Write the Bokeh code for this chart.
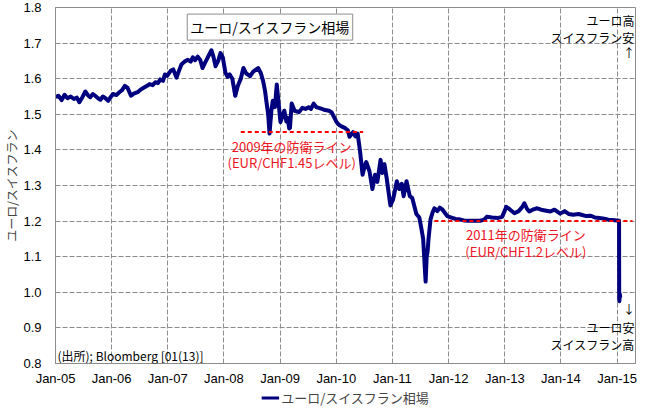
import pandas as pd
from bokeh.plotting import figure
from bokeh.layouts import column
from bokeh.models import Range1d, FixedTicker, Label, Legend, LegendItem, ColumnDataSource
from bokeh.embed import file_html
from bokeh.resources import INLINE

# ---- data ----
dates = [
    "2005-01-03", "2005-01-20", "2005-02-10", "2005-03-01", "2005-03-20", "2005-04-10", "2005-05-01",
    "2005-05-20", "2005-06-05", "2005-06-25", "2005-07-14", "2005-08-01", "2005-08-15", "2005-09-01",
    "2005-09-16", "2005-10-05", "2005-10-20", "2005-11-05", "2005-11-20", "2005-12-10", "2005-12-25",
    "2006-01-10", "2006-02-01", "2006-02-20", "2006-03-10", "2006-03-28", "2006-04-15", "2006-05-07",
    "2006-05-25", "2006-06-19", "2006-07-10", "2006-07-31", "2006-08-20", "2006-09-05", "2006-09-25",
    "2006-10-12", "2006-10-30", "2006-11-13", "2006-12-01", "2006-12-14", "2006-12-28",
    "2007-01-20", "2007-02-06", "2007-02-27", "2007-03-15", "2007-03-31", "2007-04-20", "2007-05-12",
    "2007-05-30", "2007-06-13", "2007-06-28", "2007-07-15", "2007-08-01", "2007-08-15", "2007-09-01",
    "2007-09-16", "2007-10-12", "2007-10-25", "2007-11-08", "2007-11-25", "2007-12-10", "2007-12-25",
    "2008-01-11", "2008-01-25", "2008-02-08", "2008-02-25", "2008-03-15", "2008-04-01", "2008-04-20",
    "2008-05-07", "2008-05-25", "2008-06-19", "2008-07-10", "2008-08-11", "2008-08-28", "2008-09-12",
    "2008-09-25", "2008-10-03", "2008-10-15", "2008-10-24", "2008-11-05", "2008-11-14", "2008-11-28",
    "2008-12-10", "2008-12-20",
    "2009-01-03", "2009-01-15", "2009-01-28", "2009-02-10", "2009-02-18", "2009-03-01", "2009-03-06",
    "2009-03-17", "2009-04-05", "2009-05-04", "2009-05-25", "2009-06-15", "2009-07-05", "2009-07-20",
    "2009-08-07", "2009-08-25", "2009-09-29", "2009-10-20", "2009-11-15", "2009-12-01", "2009-12-20",
    "2010-01-03", "2010-01-20", "2010-02-04", "2010-02-25", "2010-03-17", "2010-03-28", "2010-04-20",
    "2010-05-05", "2010-05-20", "2010-06-05", "2010-06-21", "2010-07-05", "2010-07-15", "2010-08-05",
    "2010-08-24", "2010-09-10", "2010-09-25", "2010-10-16", "2010-10-27", "2010-11-10", "2010-11-25",
    "2010-12-19",
    "2011-01-05", "2011-01-30", "2011-02-15", "2011-03-03", "2011-03-15", "2011-04-03", "2011-04-24",
    "2011-05-10", "2011-06-06", "2011-06-25", "2011-07-08", "2011-07-20", "2011-08-05", "2011-08-12",
    "2011-08-18", "2011-08-24", "2011-09-06", "2011-09-20", "2011-10-01", "2011-10-20", "2011-11-05",
    "2011-11-23", "2011-12-10", "2011-12-24",
    "2012-01-20", "2012-02-15", "2012-03-08", "2012-04-10", "2012-05-15", "2012-06-23", "2012-07-25",
    "2012-08-20", "2012-09-06", "2012-10-10", "2012-11-19", "2012-12-15",
    "2013-01-11", "2013-02-05", "2013-03-05", "2013-04-01", "2013-04-25", "2013-05-08", "2013-05-25",
    "2013-06-09", "2013-07-01", "2013-07-31", "2013-08-25", "2013-09-20", "2013-10-24", "2013-11-20",
    "2013-12-27",
    "2014-01-25", "2014-02-20", "2014-03-22", "2014-04-25", "2014-05-20", "2014-06-15", "2014-07-15",
    "2014-08-10", "2014-09-08", "2014-10-10", "2014-11-05", "2014-12-02", "2014-12-30",
    "2015-01-14", "2015-01-15", "2015-01-16", "2015-01-19", "2015-01-22",
]
rates = [
    1.548, 1.552, 1.540, 1.555, 1.545, 1.550, 1.543,
    1.547, 1.534, 1.548, 1.564, 1.553, 1.548, 1.557,
    1.552, 1.545, 1.541, 1.550, 1.546, 1.538, 1.548,
    1.557, 1.554, 1.562, 1.568, 1.580, 1.574, 1.552,
    1.558, 1.562, 1.570, 1.575, 1.580, 1.585, 1.582,
    1.590, 1.588, 1.598, 1.594, 1.612, 1.608,
    1.622, 1.626, 1.603, 1.622, 1.640, 1.648, 1.653,
    1.648, 1.660, 1.652, 1.662, 1.652, 1.630, 1.645,
    1.658, 1.680, 1.662, 1.635, 1.650, 1.672, 1.660,
    1.617, 1.605, 1.612, 1.600, 1.552, 1.580, 1.600,
    1.630, 1.615, 1.607, 1.620, 1.630, 1.616, 1.594,
    1.565, 1.538, 1.500, 1.446, 1.510, 1.538, 1.520,
    1.584, 1.540,
    1.478, 1.495, 1.510, 1.480, 1.490, 1.460, 1.462,
    1.530, 1.510, 1.506, 1.518, 1.515, 1.520, 1.515,
    1.530, 1.520, 1.515, 1.512, 1.510, 1.506, 1.490,
    1.478, 1.470, 1.466, 1.462, 1.455, 1.437, 1.450,
    1.438, 1.446, 1.395, 1.330, 1.355, 1.366, 1.340,
    1.290, 1.330, 1.310, 1.372, 1.335, 1.360, 1.320,
    1.244,
    1.260, 1.312, 1.290, 1.305, 1.270, 1.312, 1.270,
    1.265, 1.220, 1.210, 1.180, 1.150, 1.030, 1.100,
    1.115, 1.150, 1.205, 1.225, 1.236, 1.228, 1.238,
    1.232, 1.222, 1.214,
    1.210, 1.206, 1.205, 1.202, 1.201, 1.201, 1.201,
    1.204, 1.212, 1.210, 1.209, 1.212,
    1.240, 1.232, 1.222, 1.228, 1.240, 1.250, 1.235,
    1.227, 1.232, 1.236, 1.232, 1.230, 1.227, 1.232,
    1.221,
    1.228, 1.220, 1.218, 1.220, 1.217, 1.214, 1.215,
    1.210, 1.209, 1.207, 1.204, 1.203, 1.202,
    1.201, 0.990, 0.975, 0.995, 0.985,
]
x_tick_dates = ["2005-01-01", "2006-01-01", "2007-01-01", "2008-01-01", "2009-01-01", "2010-01-01",
                "2011-01-01", "2012-01-01", "2013-01-01", "2014-01-01", "2015-01-01"]
x_tick_labels = ["Jan-05", "Jan-06", "Jan-07", "Jan-08", "Jan-09", "Jan-10",
                 "Jan-11", "Jan-12", "Jan-13", "Jan-14", "Jan-15"]
y_ticks = [0.8, 0.9, 1.0, 1.1, 1.2, 1.3, 1.4, 1.5, 1.6, 1.7, 1.8]
y_tick_labels = ["0.8", "0.9", "1.0", "1.1", "1.2", "1.3", "1.4", "1.5", "1.6", "1.7", "1.8"]
defense_levels = [1.45, 1.20]
defense_start = ["2008-04-20", "2011-10-01"]
defense_end = ["2010-06-25", "2015-04-12"]
series_name = "ユーロ/スイスフラン相場"


def ms(d):
    return pd.Timestamp(d).value / 1e6


JP = "Noto Sans CJK JP"
LAT = "Liberation Sans"
NAVY = "#00007f"

p = figure(width=640, height=388, x_axis_type="datetime", output_backend="svg", toolbar_location=None,
           x_range=Range1d(ms("2005-01-01"), ms("2015-05-01")), y_range=Range1d(0.8, 1.8),
           min_border_left=44, min_border_right=5, min_border_top=7, min_border_bottom=20)

p.outline_line_color = "#8c8c8c"
p.outline_line_width = 1

xt = FixedTicker(ticks=[ms(d) for d in x_tick_dates])
yt = FixedTicker(ticks=y_ticks)
p.xaxis.ticker = xt
p.yaxis.ticker = yt
p.xgrid.ticker = xt
p.ygrid.ticker = yt
p.xaxis.major_label_overrides = {ms(d): l for d, l in zip(x_tick_dates, x_tick_labels)}
p.yaxis.major_label_overrides = {v: l for v, l in zip(y_ticks, y_tick_labels)}

for ax in (p.xaxis[0], p.yaxis[0]):
    ax.axis_line_color = "#8c8c8c"
    ax.major_tick_line_color = None
    ax.minor_tick_line_color = None
    ax.major_tick_out = 0
    ax.major_tick_in = 0
    ax.minor_tick_out = 0
    ax.minor_tick_in = 0
    ax.axis_label_standoff = 0
    ax.major_label_text_font = LAT
    ax.major_label_text_font_size = "13px"
    ax.major_label_text_color = "black"
p.xaxis.major_label_standoff = 7
p.yaxis.major_label_standoff = 14
p.yaxis.axis_label = "ユーロ/スイスフラン"
p.yaxis.axis_label_text_font = JP
p.yaxis.axis_label_text_font_size = "12px"
p.yaxis.axis_label_text_font_style = "normal"

for g in (p.xgrid[0], p.ygrid[0]):
    g.grid_line_color = "#8c8c8c"
    g.grid_line_dash = "5 2"
    g.grid_line_width = 1

src = ColumnDataSource(dict(x=pd.to_datetime(dates), y=rates))
r = p.line("x", "y", source=src, line_color=NAVY, line_width=4, line_join="round")

p.segment(x0=[ms(d) for d in defense_start], y0=defense_levels,
          x1=[ms(d) for d in defense_end], y1=defense_levels,
          line_color="#ff0000", line_width=2, line_dash="4 3")

# title box
p.add_layout(Label(x=ms("2008-10-27"), y=1.745, text=series_name, text_font=JP, text_font_size="14px",
                   text_align="center", text_baseline="middle", text_color="black",
                   border_line_color="#8c8c8c", background_fill_color="white", padding=3))

red = "#f0141e"
for txt, xd, yv in [("2009年の防衛ライン", "2009-03-17", 1.4105),
                    ("(EUR/CHF1.45レベル)", "2009-03-17", 1.366),
                    ("2011年の防衛ライン", "2013-05-18", 1.162),
                    ("(EUR/CHF1.2レベル)", "2013-05-18", 1.115)]:
    p.add_layout(Label(x=ms(xd), y=yv, text=txt, text_font=JP, text_font_size="13px",
                       text_align="center", text_baseline="middle", text_color=red))

for txt, yv in [("ユーロ高", 1.764), ("スイスフラン安", 1.717), ("ユーロ安", 0.902), ("スイスフラン高", 0.852)]:
    p.add_layout(Label(x=ms("2015-04-25"), y=yv, text=txt, text_font=JP, text_font_size="12px",
                       text_align="right", text_baseline="middle", text_color="black"))
for txt, yv in [("↑", 1.673), ("↓", 0.955)]:
    p.add_layout(Label(x=ms("2015-03-20"), y=yv, text=txt, text_font=JP, text_font_size="12px",
                       text_align="center", text_baseline="middle", text_color="black"))

p.add_layout(Label(x=ms("2005-01-14"), y=0.822, text="(出所); Bloomberg [01(13)]", text_font=JP,
                   text_font_size="12px", text_align="left", text_baseline="middle", text_color="black"))

# legend strip below the chart (same series, its ranges keep the line itself out of view)
pl = figure(width=640, height=18, output_backend="svg", toolbar_location=None,
            min_border_left=44, min_border_right=5, min_border_top=0, min_border_bottom=0,
            x_range=Range1d(0, 1), y_range=Range1d(0, 1))
pl.axis.visible = False
pl.grid.visible = False
pl.outline_line_color = None
lr = pl.line("x", "y", source=src, line_color=NAVY, line_width=3)
legend = Legend(items=[LegendItem(label=series_name, renderers=[lr])], location="center",
                orientation="horizontal", margin=0, padding=0, spacing=0,
                border_line_color=None, background_fill_alpha=0,
                label_text_font=JP, label_text_font_size="13px", label_standoff=2,
                glyph_width=18, glyph_height=16, label_height=16)
pl.add_layout(legend, "center")

layout = column(p, pl, spacing=0)
open("out.html", "w").write(file_html(layout, INLINE))
